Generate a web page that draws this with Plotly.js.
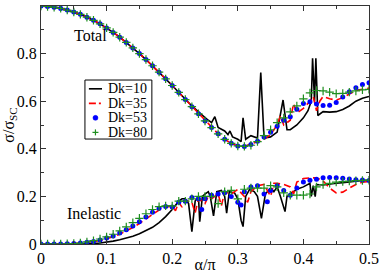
<!DOCTYPE html>
<html><head><meta charset="utf-8">
<script src="https://cdn.plot.ly/plotly-3.0.1.min.js"></script>
<style>html,body{margin:0;padding:0;background:#fff}#c{width:379px;height:273px}</style>
</head><body><div id="c"></div>
<script>
// ---- Total cross sections ----
const xTot53 = [0,0.01,0.02,0.03,0.04,0.05,0.06,0.07,0.08,0.09,0.10,0.11,0.12,0.13,0.14,0.15,0.16,0.17,0.18,0.19,0.20,0.21,0.22,0.23,0.24,0.25,0.26,0.27,0.28,0.29,0.30,0.31,0.32,0.33,0.34,0.35,0.36,0.37,0.38,0.39,0.40,0.41,0.42,0.43,0.44,0.45,0.46,0.47,0.48,0.49,0.50];
const yTot53 = [1.0,0.998,0.995,0.99,0.983,0.975,0.965,0.953,0.94,0.925,0.908,0.889,0.869,0.847,0.824,0.8,0.775,0.749,0.722,0.694,0.666,0.637,0.607,0.577,0.547,0.517,0.489,0.463,0.44,0.423,0.412,0.41,0.418,0.432,0.45,0.47,0.495,0.52,0.535,0.566,0.59,0.598,0.588,0.582,0.583,0.595,0.618,0.64,0.657,0.67,0.678];
const xTot80 = xTot53;
const yTot80 = [1.0,0.998,0.995,0.99,0.983,0.975,0.965,0.953,0.94,0.925,0.908,0.889,0.869,0.847,0.824,0.8,0.775,0.749,0.722,0.694,0.666,0.637,0.607,0.577,0.547,0.517,0.489,0.463,0.44,0.423,0.412,0.41,0.415,0.43,0.455,0.48,0.51,0.53,0.555,0.58,0.61,0.635,0.645,0.643,0.638,0.632,0.633,0.638,0.643,0.648,0.65];
const xTot35 = [0,0.01,0.02,0.03,0.04,0.05,0.06,0.07,0.08,0.09,0.10,0.11,0.12,0.13,0.14,0.15,0.16,0.17,0.18,0.19,0.20,0.21,0.22,0.23,0.24,0.25,0.26,0.27,0.28,0.29,0.30,0.31,0.32,0.33,0.34,0.35,0.36,0.365,0.37,0.38,0.385,0.39,0.40,0.41,0.415,0.42,0.425,0.43,0.44,0.45,0.46,0.47,0.48,0.49,0.50];
const yTot35 = [1.0,0.998,0.995,0.99,0.983,0.975,0.965,0.953,0.94,0.925,0.908,0.889,0.869,0.847,0.824,0.8,0.775,0.749,0.722,0.694,0.666,0.637,0.607,0.577,0.547,0.517,0.489,0.463,0.44,0.423,0.412,0.41,0.42,0.43,0.44,0.46,0.5,0.54,0.5,0.52,0.59,0.55,0.57,0.6,0.62,0.56,0.6,0.62,0.61,0.605,0.615,0.63,0.645,0.65,0.655];
const xTot10 = [0,0.01,0.02,0.03,0.04,0.05,0.06,0.07,0.08,0.09,0.10,0.11,0.12,0.13,0.14,0.15,0.16,0.17,0.18,0.19,0.20,0.21,0.22,0.23,0.24,0.25,0.255,0.26,0.265,0.27,0.28,0.285,0.288,0.292,0.30,0.305,0.308,0.312,0.32,0.33,0.335,0.34,0.35,0.36,0.369,0.375,0.38,0.39,0.40,0.407,0.412,0.414,0.417,0.419,0.422,0.43,0.44,0.45,0.46,0.47,0.48,0.49,0.50];
const yTot10 = [1.0,0.998,0.995,0.99,0.983,0.975,0.965,0.953,0.94,0.925,0.908,0.889,0.869,0.847,0.824,0.8,0.775,0.749,0.722,0.694,0.666,0.637,0.607,0.58,0.555,0.53,0.52,0.51,0.535,0.49,0.475,0.46,0.475,0.45,0.44,0.43,0.53,0.44,0.455,0.445,0.72,0.445,0.45,0.47,0.605,0.48,0.48,0.5,0.53,0.56,0.6,0.78,0.6,0.78,0.54,0.556,0.554,0.556,0.565,0.58,0.6,0.612,0.62];

// ---- Inelastic cross sections ----
const xIn53 = [0,0.01,0.02,0.03,0.04,0.05,0.06,0.07,0.08,0.09,0.10,0.11,0.12,0.13,0.14,0.15,0.16,0.17,0.18,0.19,0.20,0.21,0.22,0.23,0.24,0.245,0.25,0.26,0.27,0.28,0.29,0.30,0.305,0.31,0.32,0.33,0.34,0.345,0.35,0.36,0.37,0.38,0.39,0.40,0.41,0.42,0.43,0.44,0.45,0.46,0.47,0.48,0.49,0.50];
const yIn53 = [0,0,0,0,0.001,0.002,0.004,0.007,0.011,0.017,0.025,0.034,0.046,0.06,0.076,0.093,0.113,0.133,0.15,0.158,0.155,0.175,0.18,0.195,0.19,0.145,0.19,0.205,0.21,0.215,0.2,0.175,0.164,0.22,0.24,0.245,0.21,0.178,0.225,0.245,0.225,0.205,0.235,0.26,0.268,0.272,0.278,0.279,0.278,0.276,0.273,0.27,0.269,0.267];
const xIn80 = [0,0.01,0.02,0.03,0.04,0.05,0.06,0.07,0.08,0.09,0.10,0.11,0.12,0.13,0.14,0.15,0.16,0.17,0.18,0.19,0.20,0.21,0.22,0.23,0.24,0.25,0.26,0.27,0.28,0.29,0.30,0.31,0.32,0.33,0.34,0.35,0.36,0.37,0.38,0.39,0.40,0.41,0.42,0.43,0.44,0.45,0.46,0.47,0.48,0.49,0.50];
const yIn80 = [0,0,0,0,0.001,0.002,0.004,0.009,0.014,0.021,0.03,0.041,0.055,0.072,0.09,0.108,0.127,0.145,0.157,0.16,0.16,0.18,0.18,0.19,0.2,0.2,0.2,0.17,0.22,0.225,0.19,0.23,0.235,0.235,0.235,0.245,0.24,0.215,0.205,0.205,0.205,0.21,0.24,0.25,0.255,0.26,0.262,0.264,0.266,0.267,0.268];
const xIn35 = [0,0.01,0.02,0.03,0.04,0.05,0.06,0.07,0.08,0.09,0.10,0.11,0.12,0.13,0.14,0.15,0.16,0.17,0.18,0.19,0.20,0.205,0.21,0.215,0.22,0.23,0.235,0.24,0.25,0.255,0.26,0.27,0.275,0.28,0.29,0.30,0.31,0.315,0.32,0.33,0.34,0.35,0.355,0.36,0.37,0.38,0.385,0.39,0.40,0.41,0.42,0.43,0.44,0.45,0.46,0.47,0.48,0.49,0.50];
const yIn35 = [0,0,0,0,0.001,0.002,0.004,0.006,0.01,0.015,0.022,0.03,0.041,0.054,0.069,0.086,0.105,0.125,0.143,0.155,0.16,0.14,0.175,0.155,0.185,0.175,0.13,0.19,0.17,0.2,0.19,0.21,0.16,0.22,0.21,0.23,0.2,0.175,0.22,0.245,0.25,0.2,0.255,0.255,0.25,0.24,0.21,0.26,0.275,0.278,0.278,0.265,0.235,0.215,0.218,0.235,0.25,0.26,0.262];
const xIn10 = [0,0.05,0.07,0.08,0.09,0.10,0.11,0.12,0.13,0.14,0.15,0.16,0.17,0.18,0.19,0.20,0.21,0.215,0.22,0.225,0.23,0.235,0.24,0.242,0.246,0.25,0.255,0.258,0.263,0.268,0.275,0.28,0.283,0.287,0.295,0.30,0.305,0.308,0.312,0.318,0.325,0.33,0.336,0.342,0.35,0.355,0.36,0.365,0.372,0.375,0.38,0.39,0.40,0.41,0.412,0.415,0.418,0.42,0.43,0.44,0.45,0.46,0.47,0.48,0.49,0.50];
const yIn10 = [0,0,0.001,0.002,0.004,0.007,0.012,0.018,0.024,0.033,0.043,0.055,0.07,0.09,0.115,0.145,0.18,0.19,0.19,0.17,0.052,0.18,0.2,0.094,0.2,0.21,0.22,0.2,0.118,0.22,0.225,0.2,0.13,0.22,0.215,0.19,0.1,0.073,0.2,0.23,0.22,0.2,0.108,0.21,0.235,0.22,0.24,0.2,0.136,0.2,0.21,0.23,0.24,0.255,0.2,0.245,0.199,0.25,0.248,0.25,0.255,0.258,0.262,0.265,0.267,0.268];

const seriesNames = ["Dk=10","Dk=35","Dk=53","Dk=80"];
const xTickVals = [0,0.1,0.2,0.3,0.4,0.5];
const yTickVals = [0,0.2,0.4,0.6,0.8,1];

const FONT = "Liberation Serif";
const GREEN = "#1f8f1f";
const RED = "#ff0000", BLUE = "#0000ff";
const st = {
  "Dk=10": {mode:"lines", line:{color:"#000", width:1.6}},
  "Dk=35": {mode:"lines", line:{color:RED, width:1.6, dash:"7px,4px"}},
  "Dk=53": {mode:"markers", marker:{color:BLUE, size:5, symbol:"circle"}},
  "Dk=80": {mode:"markers", marker:{color:GREEN, size:6, symbol:"cross-thin-open", line:{color:GREEN, width:1.2}}}
};
const totX = [xTot10, xTot35, xTot53, xTot80], totY = [yTot10, yTot35, yTot53, yTot80];
const inX = [xIn10, xIn35, xIn53, xIn80], inY = [yIn10, yIn35, yIn53, yIn80];
const traces = [];
seriesNames.forEach((n,i)=>{
  traces.push(Object.assign({type:"scatter", x:totX[i], y:totY[i], name:n, showlegend:false}, JSON.parse(JSON.stringify(st[n]))));
});
seriesNames.forEach((n,i)=>{
  traces.push(Object.assign({type:"scatter", x:inX[i], y:inY[i], name:n, showlegend:false}, JSON.parse(JSON.stringify(st[n]))));
});

// ---- compact legend box (xmgrace style) ----
const lg = {x0:0.134, x1:0.338, y0:0.441, y1:0.689, rows:[0.652,0.591,0.530,0.469], sx0:0.146, sx1:0.186, sxc:0.166, tx:0.201};
const shapes = [
  {type:"rect", xref:"paper", yref:"paper", x0:lg.x0, x1:lg.x1, y0:lg.y0, y1:lg.y1, line:{color:"#000", width:1}, fillcolor:"#fff", layer:"above"},
  {type:"line", xref:"paper", yref:"paper", x0:lg.sx0, x1:lg.sx1, y0:lg.rows[0], y1:lg.rows[0], line:{color:"#000", width:1.6}, layer:"above"},
  {type:"line", xref:"paper", yref:"paper", x0:lg.sx0, x1:lg.sx1, y0:lg.rows[1], y1:lg.rows[1], line:{color:RED, width:1.6, dash:"7px,3px,2px,3px"}, layer:"above"},
  {type:"circle", xref:"paper", yref:"paper", xsizemode:"pixel", ysizemode:"pixel", xanchor:lg.sxc, yanchor:lg.rows[2], x0:-2.5, x1:2.5, y0:-2.5, y1:2.5, fillcolor:BLUE, line:{color:BLUE, width:0.5}, layer:"above"},
  {type:"line", xref:"paper", yref:"paper", xsizemode:"pixel", xanchor:lg.sxc, x0:-3, x1:3, y0:lg.rows[3], y1:lg.rows[3], line:{color:GREEN, width:1.2}, layer:"above"},
  {type:"line", xref:"paper", yref:"paper", ysizemode:"pixel", yanchor:lg.rows[3], y0:-3, y1:3, x0:lg.sxc, x1:lg.sxc, line:{color:GREEN, width:1.2}, layer:"above"}
];
const annotations = [
  {x:0.0747, y:0.874, xref:"x", yref:"y", text:"Total", showarrow:false, font:{family:FONT, size:16}},
  {x:0.081, y:0.13, xref:"x", yref:"y", text:"Inelastic", showarrow:false, font:{family:FONT, size:16}}
];
seriesNames.forEach((n,i)=>{
  annotations.push({x:lg.tx, y:lg.rows[i], xref:"paper", yref:"paper", xanchor:"left", yanchor:"middle", text:n, showarrow:false, borderpad:0, font:{family:FONT, size:14, color:"#000"}});
});

const axCommon = {
  showline:true, linecolor:"#333", linewidth:1, mirror:"allticks",
  ticks:"inside", ticklen:5, tickwidth:1, tickcolor:"#333",
  showgrid:false, zeroline:false,
  tickfont:{family:FONT, size:16, color:"#000"}
};
const layout = {
  width:379, height:273,
  margin:{l:41, r:10, t:6, b:29},
  paper_bgcolor:"#fff", plot_bgcolor:"#fff",
  font:{family:FONT, size:16, color:"#000"},
  xaxis:Object.assign({}, axCommon, {range:[0,0.5], tickvals:xTickVals, ticktext:xTickVals.map(String),
    minor:{dtick:0.05, ticks:"inside", ticklen:3, tickcolor:"#333", showgrid:false},
    title:{text:"α/π", font:{family:FONT, size:16}, standoff:0}}),
  yaxis:Object.assign({}, axCommon, {range:[0,1], tickvals:yTickVals, ticktext:yTickVals.map(String),
    minor:{dtick:0.1, ticks:"inside", ticklen:3, tickcolor:"#333", showgrid:false},
    title:{text:"σ/σ<sub>SC</sub>", font:{family:FONT, size:16}, standoff:2}}),
  showlegend:false,
  shapes:shapes,
  annotations:annotations
};
Plotly.newPlot("c", traces, layout, {staticPlot:true, displayModeBar:false});
</script>
</body></html>
